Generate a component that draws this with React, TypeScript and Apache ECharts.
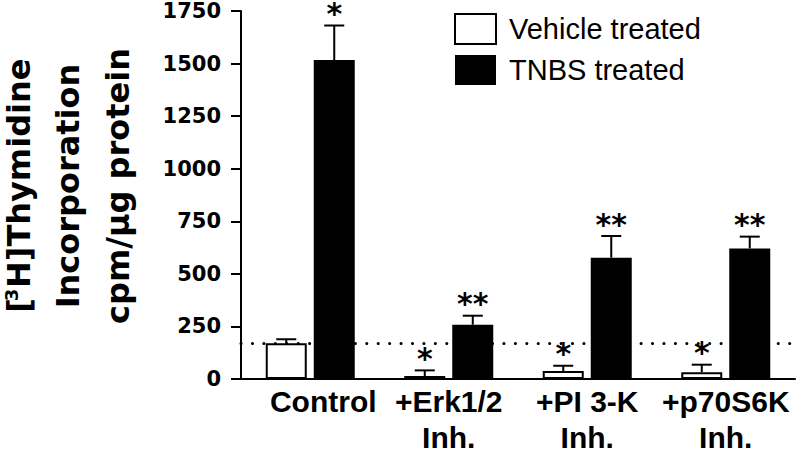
import React, { useEffect, useRef } from "react";
import * as echarts from "echarts";

const categories = ["Control", "+Erk1/2\nInh.", "+PI 3-K\nInh.", "+p70S6K\nInh."];
const seriesNames = ["Vehicle treated", "TNBS treated"];
const vehicleValues = [170, 14, 38, 32];
const vehicleErrors = [19, 27, 25, 36];
const tnbsValues = [1517, 258, 577, 621];
const tnbsErrors = [164, 43, 103, 56];
const vehicleMarks = ["", "*", "*", "*"];
const tnbsMarks = ["*", "**", "**", "**"];
const baselineValue = 168;
const yMin = 0;
const yMax = 1750;
const yStep = 250;

const BAR_W = 41;
const GAP = 7;
const OFFSET = (BAR_W + GAP) / 2;

const BOLD_WIDE = "'DejaVu Sans', sans-serif";
const ARIAL = "'Liberation Sans', Arial, sans-serif";

export default function App() {
  const ref = useRef<HTMLDivElement>(null);

  useEffect(() => {
    if (!ref.current) return;
    const chart = echarts.init(ref.current, undefined, { renderer: "svg" });

    const errData: number[][] = [];
    const marks: string[] = [];
    vehicleValues.forEach((v, i) => {
      errData.push([i, v, vehicleErrors[i], -1]);
      marks.push(vehicleMarks[i]);
    });
    tnbsValues.forEach((v, i) => {
      errData.push([i, v, tnbsErrors[i], 1]);
      marks.push(tnbsMarks[i]);
    });

    const titleFont = { fontFamily: BOLD_WIDE, fontWeight: "bold", fontSize: 32, fill: "#000" };

    const option: any = {
      animation: false,
      backgroundColor: "#fff",
      grid: {
        left: 241,
        right: 4,
        top: 11,
        bottom: 71,
        containLabel: false,
        outerBoundsMode: "none",
      },
      legend: {
        orient: "vertical",
        left: 454,
        top: 13,
        itemWidth: 41,
        itemHeight: 30,
        itemGap: 10,
        padding: 0,
        icon: "rect",
        selectedMode: false,
        data: seriesNames,
        textStyle: {
          fontFamily: ARIAL,
          fontSize: 29,
          color: "#000",
          padding: [0, 0, 0, 8],
        },
      },
      xAxis: {
        type: "category",
        data: categories.map((c, i) =>
          i === 0 ? { value: c, textStyle: { padding: [0, 0, 0, 26] } } : c
        ),
        axisLine: { lineStyle: { color: "#000", width: 2 } },
        axisTick: { show: false },
        axisLabel: {
          interval: 0,
          margin: 4,
          fontFamily: ARIAL,
          fontWeight: "bold",
          fontSize: 30,
          lineHeight: 36,
          color: "#000",
        },
      },
      yAxis: {
        type: "value",
        min: yMin,
        max: yMax,
        interval: yStep,
        axisLine: { show: true, lineStyle: { color: "#000", width: 2 } },
        axisTick: { show: true, length: 10, lineStyle: { color: "#000", width: 2 } },
        splitLine: { show: false },
        axisLabel: {
          margin: 20,
          fontFamily: BOLD_WIDE,
          fontWeight: "bold",
          fontSize: 21,
          color: "#000",
          formatter: (v: number) => String(v),
        },
      },
      series: [
        {
          type: "bar",
          name: seriesNames[0],
          data: vehicleValues,
          barWidth: BAR_W,
          barGap: `${(GAP / BAR_W) * 100}%`,
          itemStyle: { color: "#fff", borderColor: "#000", borderWidth: 2 },
          silent: true,
          markLine: {
            silent: true,
            symbol: "none",
            z: 1,
            label: { show: false },
            lineStyle: { color: "#000", type: [0.1, 11.33], width: 3, cap: "round" },
            data: [{ yAxis: baselineValue }],
          },
        },
        {
          type: "bar",
          name: seriesNames[1],
          data: tnbsValues,
          barWidth: BAR_W,
          barGap: `${(GAP / BAR_W) * 100}%`,
          itemStyle: { color: "#000" },
          silent: true,
        },
        {
          type: "custom",
          silent: true,
          clip: false,
          z: 5,
          data: errData,
          encode: { x: 0, y: 1 },
          renderItem: (params: any, api: any) => {
            const idx = params.dataIndex;
            const cat = api.value(0);
            const val = api.value(1);
            const err = api.value(2);
            const side = api.value(3);
            const base = api.coord([cat, val]);
            const top = api.coord([cat, val + err]);
            const x = base[0] + side * OFFSET;
            return {
              type: "group",
              children: [
                {
                  type: "line",
                  shape: { x1: x, y1: base[1], x2: x, y2: top[1] },
                  style: { stroke: "#000", lineWidth: 2 },
                },
                {
                  type: "line",
                  shape: { x1: x - 10, y1: top[1], x2: x + 10, y2: top[1] },
                  style: { stroke: "#000", lineWidth: 2 },
                },
                {
                  type: "text",
                  x: x,
                  y: top[1] - 12,
                  style: {
                    text: marks[idx],
                    fontFamily: BOLD_WIDE,
                    fontWeight: "bold",
                    fontSize: 30,
                    lineHeight: 16,
                    fill: "#000",
                    align: "center",
                    verticalAlign: "middle",
                  },
                },
              ],
            };
          },
        },
      ],
      graphic: [
        {
          type: "group",
          x: 0,
          y: 186,
          rotation: Math.PI / 2,
          silent: true,
          children: [
            { type: "text", x: -112, y: 19, style: { ...titleFont, text: "[", align: "right", verticalAlign: "middle" } },
            { type: "text", x: -109, y: 11, style: { ...titleFont, fontSize: 18, lineHeight: 14, text: "3", align: "center", verticalAlign: "middle" } },
            { type: "text", x: -102, y: 19, style: { ...titleFont, text: "H]Thymidine", align: "left", verticalAlign: "middle" } },
            { type: "text", x: 0, y: 68, style: { ...titleFont, text: "Incorporation", align: "center", verticalAlign: "middle" } },
            { type: "text", x: 0, y: 118, style: { ...titleFont, text: "cpm/µg protein", align: "center", verticalAlign: "middle" } },
          ],
        },
      ],
    };

    chart.setOption(option);
    return () => chart.dispose();
  }, []);

  return (
    <div
      ref={ref}
      style={{ position: "fixed", left: 0, top: 0, width: 799, height: 450, background: "#fff" }}
    />
  );
}
